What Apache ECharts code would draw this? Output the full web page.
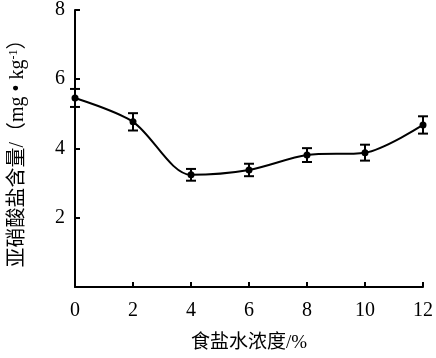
<!DOCTYPE html>
<html>
<head>
<meta charset="utf-8">
<script src="https://cdn.jsdelivr.net/npm/echarts@6/dist/echarts.min.js"></script>
<style>html,body{margin:0;padding:0;background:#fff}#c{width:436px;height:358px}</style>
</head>
<body>
<div id="c"></div>
<script>
var concentrations = [0, 2, 4, 6, 8, 10, 12];
var nitriteValues = [5.46, 4.77, 3.24, 3.38, 3.81, 3.88, 4.68];
var nitriteErrors = [0.26, 0.25, 0.17, 0.18, 0.2, 0.23, 0.25];
var xTicks = [0, 2, 4, 6, 8, 10, 12];
var yTicks = [2, 4, 6, 8];

var lineData = concentrations.map(function (x, i) { return [x, nitriteValues[i]]; });
var errData = concentrations.map(function (x, i) {
  return [x, nitriteValues[i] - nitriteErrors[i], nitriteValues[i] + nitriteErrors[i]];
});

var serif = '"Liberation Serif", "Times New Roman", "Noto Sans CJK SC", serif';
var chart = echarts.init(document.getElementById('c'));
chart.setOption({
  animation: false,
  backgroundColor: '#fff',
  grid: { left: 72, right: 11, top: 10, bottom: 71 },
  xAxis: {
    type: 'value', min: 0, max: 12, interval: 2,
    name: '食盐水浓度/%', nameLocation: 'middle', nameGap: 47,
    nameTextStyle: { fontFamily: serif, fontSize: 19, color: '#000' },
    axisLine: { lineStyle: { color: '#000', width: 2 } },
    axisTick: { inside: true, length: 5, lineStyle: { color: '#000', width: 2 } },
    axisLabel: { fontFamily: serif, fontSize: 20, color: '#000', margin: 14,
      formatter: function (v) { return xTicks.indexOf(v) >= 0 ? String(v) : ''; } },
    splitLine: { show: false }
  },
  yAxis: {
    type: 'value', min: 0, max: 8, interval: 2,
    name: '{a|亚硝酸盐含量/（mg • kg}{s|-1}{a|）}', nameLocation: 'middle', nameGap: 47, nameRotate: 90,
    nameTextStyle: {
      rich: {
        a: { fontFamily: serif, fontSize: 20, color: '#000' },
        s: { fontFamily: serif, fontSize: 12, color: '#000', verticalAlign: 'top', padding: [0, 0, 8, 0] }
      }
    },
    axisLine: { lineStyle: { color: '#000', width: 2 } },
    axisTick: { inside: true, length: 5, lineStyle: { color: '#000', width: 2 } },
    axisLabel: { fontFamily: serif, fontSize: 20, color: '#000', margin: 10,
      formatter: function (v) { return yTicks.indexOf(v) >= 0 ? String(v) : ''; } },
    splitLine: { show: false }
  },
  series: [
    {
      type: 'line', data: lineData, smooth: 0.3,
      symbol: 'circle', symbolSize: 7,
      lineStyle: { color: '#000', width: 2 },
      itemStyle: { color: '#000' }, z: 3
    },
    {
      type: 'custom', data: errData, z: 4,
      renderItem: function (params, api) {
        var x = api.value(0);
        var lo = api.coord([x, api.value(1)]);
        var hi = api.coord([x, api.value(2)]);
        var w = 5;
        var st = { stroke: '#000', lineWidth: 2 };
        return {
          type: 'group',
          children: [
            { type: 'line', shape: { x1: lo[0], y1: lo[1], x2: hi[0], y2: hi[1] }, style: st },
            { type: 'line', shape: { x1: lo[0] - w, y1: lo[1], x2: lo[0] + w, y2: lo[1] }, style: st },
            { type: 'line', shape: { x1: hi[0] - w, y1: hi[1], x2: hi[0] + w, y2: hi[1] }, style: st }
          ]
        };
      }
    }
  ]
});
</script>
</body>
</html>
